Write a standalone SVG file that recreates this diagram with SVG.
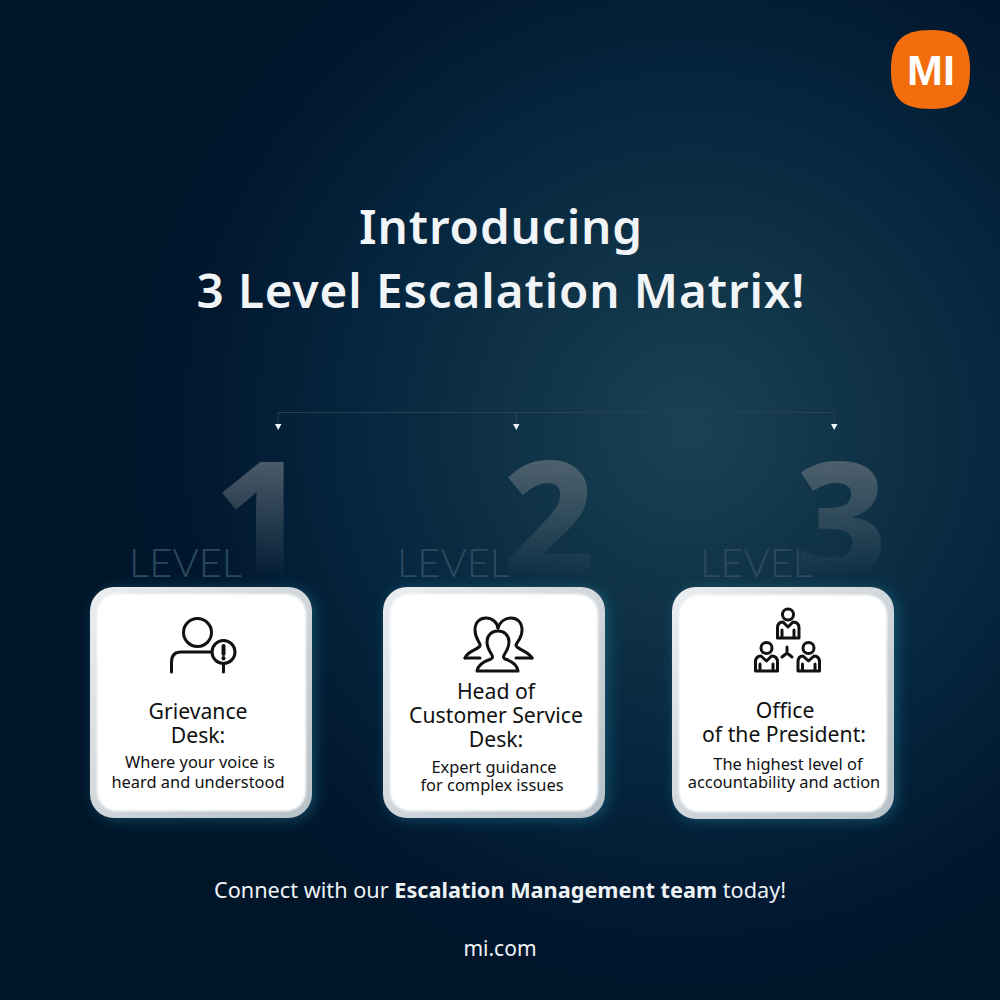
<svg xmlns="http://www.w3.org/2000/svg" width="1000" height="1000" viewBox="0 0 1000 1000">
<style>
text{font-family:"Noto Sans","Open Sans","Liberation Sans",sans-serif}
.t{font-size:47.600px;font-weight:600;fill:#f2f5f7;text-anchor:middle;letter-spacing:.9px}
.lv{font-family:"Lato","Noto Sans",sans-serif;font-size:40px;font-weight:300;fill:#2b4a5f}
.big{font-family:"Noto Sans",sans-serif;font-size:160px;font-weight:800;fill:url(#num)}
.h{font-size:21.200px;fill:#111;text-anchor:middle}
.d{font-size:16.400px;fill:#111;text-anchor:middle}
.f{font-size:21.700px;fill:#eef2f5;text-anchor:middle}
.ic{fill:none;stroke:#111;stroke-width:3;stroke-linecap:round;stroke-linejoin:round}
.c{fill:none;stroke:#26424f;stroke-width:1}
.outer{fill:url(#rim);filter:url(#glow)}
.inner{fill:#fff;filter:url(#soft)}
</style>
<defs>
<radialGradient id="bg" gradientUnits="userSpaceOnUse" cx="690" cy="430" r="600">
<stop offset="0" stop-color="#1a4254"/><stop offset=".25" stop-color="#113548"/><stop offset=".55" stop-color="#05263f"/><stop offset=".85" stop-color="#01172e"/><stop offset="1" stop-color="#011529"/>
</radialGradient>
<linearGradient id="num" gradientUnits="userSpaceOnUse" x1="0" y1="460" x2="0" y2="577"><stop offset="0" stop-color="#5d6b76" stop-opacity=".8"/><stop offset="1" stop-color="#5d6b76" stop-opacity="0"/></linearGradient>
<linearGradient id="rim" x1="0" y1="0" x2="1" y2="1"><stop offset="0" stop-color="#eceef0"/><stop offset="1" stop-color="#b6c0c7"/></linearGradient>
<filter id="glow" x="-20%" y="-20%" width="140%" height="140%"><feDropShadow dx="3" dy="2" stdDeviation="7" flood-color="#2a9fc0" flood-opacity=".35"/></filter>
<filter id="soft" x="-5%" y="-5%" width="110%" height="110%"><feGaussianBlur stdDeviation=".8"/></filter>
</defs>
<rect id="background" width="1000" height="1000" fill="url(#bg)"/>
<g id="logo"><path d="M931 30C960 30 970 42 970 70C970 98 960 109 931 109C901 109 891 98 891 70C891 42 901 30 931 30Z" fill="#f26d0c"/>
<text x="931" y="85" font-size="43" font-weight="700" fill="#fff" text-anchor="middle" style="font-family:'Liberation Sans',sans-serif">MI</text></g>
<g id="title"><text class="t" x="501" y="244">Introducing</text><text class="t" x="501" y="308">3 Level Escalation Matrix!</text></g>
<g id="connectors"><path class="c" d="M278 424V412.500H834V424M516.500 412.500V424"/>
<path d="M275 424H281.500L278.200 430ZM513 424H519.500L516.300 430ZM831 424H837.500L834.200 430Z" fill="#eef4f7"/></g>
<g id="level1">
<text class="big" x="214" y="577">1</text>
<text class="lv" x="129" y="577">LEVEL</text>
<rect class="outer" x="90" y="587" width="222" height="231" rx="24"/><rect class="inner" x="97" y="594" width="209" height="217" rx="20"/>
<g class="ic"><circle cx="197.500" cy="632.500" r="14"/><path d="M171.500 672V662Q171.500 652 181 652H212"/><circle cx="223.500" cy="652" r="11.500"/><path d="M223.500 664V672"/><path d="M223.500 646V654M223.500 658V658.500" stroke-width="4"/></g>
<text class="h" x="198" y="719">Grievance</text><text class="h" x="198" y="743">Desk:</text>
<text class="d" x="200" y="768">Where your voice is</text><text class="d" x="198" y="788">heard and understood</text>
</g>
<g id="level2">
<text class="big" x="503" y="577">2</text>
<text class="lv" x="397" y="577">LEVEL</text>
<rect class="outer" x="383" y="587" width="222" height="231" rx="24"/><rect class="inner" x="390" y="594" width="208" height="217" rx="20"/>
<g class="ic" stroke-width="2.500">
<path d="M465 658C467 652 474 651 479 647C483 644 475 641 475 630C475 622 480 618 486 618C492 618 497 622 498 628"/>
<path d="M532 658C529 652 522 651 517 647C513 644 522 641 522 630C522 622 517 618 511 618C505 618 500 622 498 628"/>
<path d="M465 658H480M532 658H516"/>
<path fill="#fff" d="M477 671C478 664 485 661 491 659C496 656 487 652 487 642C487 635 492 631 498 631C504 631 509 635 509 642C509 652 500 656 505 659C511 661 517 664 518 671Z"/>
</g>
<text class="h" x="496" y="699">Head of</text><text class="h" x="496" y="723">Customer Service</text><text class="h" x="496" y="747">Desk:</text>
<text class="d" x="494" y="773">Expert guidance</text><text class="d" x="492" y="791">for complex issues</text>
</g>
<g id="level3">
<text class="big" x="795" y="577">3</text>
<text class="lv" x="700" y="577">LEVEL</text>
<rect class="outer" x="672" y="587" width="222" height="232" rx="24"/><rect class="inner" x="679" y="595" width="208" height="217" rx="20"/>
<g class="ic" stroke-width="2.500">
<circle cx="788" cy="614.500" r="5.500"/><path d="M777.500 638V628Q777.500 622 783 622L788 627L793 622Q799 622 799 628V638ZM782 638V630M794 638V630"/>
<circle cx="766.500" cy="648" r="5.500"/><path d="M755.500 671V662Q755.500 656 761 656L766.500 661L771.500 656Q777.500 656 777.500 662V671ZM760 671V664M773 671V664"/>
<circle cx="808.500" cy="648" r="5.500"/><path d="M798 671V662Q798 656 803 656L808.500 661L814 656Q819.500 656 819.500 662V671ZM802.500 671V664M815 671V664"/>
<path d="M787 647V653M787 653L782 657M787 653L792 657"/></g>
<text class="h" x="785" y="718">Office</text><text class="h" x="784" y="742">of the President:</text>
<text class="d" x="788" y="770">The highest level of</text><text class="d" x="784" y="788">accountability and action</text>
</g>
<g id="footer"><text class="f" x="500" y="898">Connect with our <tspan font-weight="700">Escalation Management team</tspan> today!</text>
<text class="f" x="500" y="956" style="font-size:21px">mi.com</text></g>
</svg>
